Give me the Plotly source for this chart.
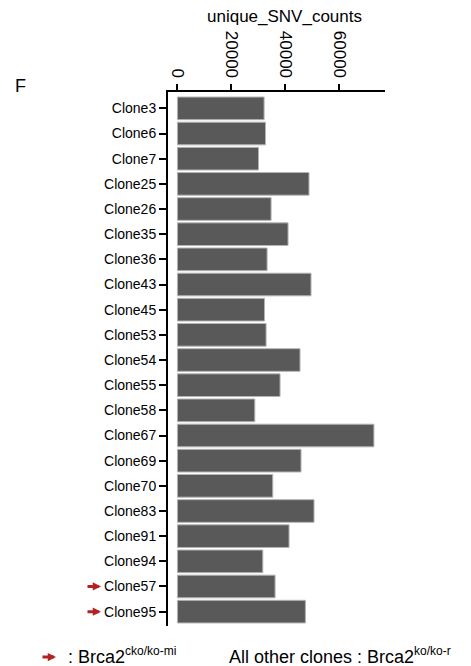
import plotly.graph_objects as go

# Clone names, top to bottom, and their unique SNV counts
clones = ["Clone3", "Clone6", "Clone7", "Clone25", "Clone26", "Clone35", "Clone36",
          "Clone43", "Clone45", "Clone53", "Clone54", "Clone55", "Clone58", "Clone67",
          "Clone69", "Clone70", "Clone83", "Clone91", "Clone94", "Clone57", "Clone95"]
snv_counts = [32150, 32670, 30070, 48810, 34740, 41040, 33260,
              49560, 32300, 32890, 45480, 38070, 28700, 72890,
              45850, 35370, 50670, 41410, 31670, 36220, 47480]
# Clones carrying the Brca2 cko/ko-mi genotype (marked with a red arrow)
marked_clones = ["Clone57", "Clone95"]
x_ticks = [0, 20000, 40000, 60000]

FONT = "Liberation Sans, Arial, sans-serif"
W, H = 471, 666
L, R, T, B = 168, 86, 92, 40
PW, PH = W - L - R, H - T - B


def px(x):
    return (x - L) / PW


def py(y):
    return (H - B - y) / PH


def sup(s):
    return f"<sup><span style='font-size:12px'>{s}</span></sup>"


fig = go.Figure(go.Bar(
    x=snv_counts, y=clones, orientation="h",
    marker=dict(color="#595959", line=dict(color="#b4b4b4", width=1)),
    hoverinfo="x+y",
))

fig.update_layout(
    width=W, height=H,
    margin=dict(l=L, r=R, t=T, b=B),
    paper_bgcolor="white", plot_bgcolor="white",
    showlegend=False, bargap=0.1,
    font=dict(family=FONT, color="black"),
    xaxis=dict(
        side="top", range=[-3500, 77000], tickvals=x_ticks,
        ticktext=[str(v) for v in x_ticks], tickangle=90,
        tickfont=dict(size=17, color="black"),
        showline=True, linecolor="black", linewidth=2,
        ticks="outside", ticklen=6, tickwidth=2, tickcolor="black",
        showgrid=False, zeroline=False,
    ),
    yaxis=dict(
        type="category", categoryorder="array", categoryarray=clones,
        range=[20.57, -0.65],
        tickfont=dict(size=14, color="black"),
        showline=True, linecolor="black", linewidth=2,
        ticks="outside", ticklen=7, tickwidth=2, tickcolor="black",
        showgrid=False, zeroline=False,
    ),
)

arrow_style = dict(showarrow=True, ax=-15, ay=0, arrowhead=2, arrowsize=0.55,
                   arrowwidth=3, arrowcolor="#b22222", text="")

annotations = [
    dict(text="unique_SNV_counts", x=px(284), y=py(16), xref="paper", yref="paper",
         showarrow=False, font=dict(size=17, family=FONT), xanchor="center", yanchor="middle"),
    dict(text="F", x=px(20), y=py(86), xref="paper", yref="paper",
         showarrow=False, font=dict(size=18, family=FONT), xanchor="center", yanchor="middle"),
    dict(text=": Brca2" + sup("cko/ko-mi"), x=px(66), y=py(655), xref="paper", yref="paper",
         showarrow=False, font=dict(size=18, family=FONT), xanchor="left", yanchor="middle"),
    dict(text="All other clones : Brca2" + sup("ko/ko-r"), x=px(227), y=py(655),
         xref="paper", yref="paper", showarrow=False, font=dict(size=18, family=FONT),
         xanchor="left", yanchor="middle"),
    # arrow key in the footnote
    dict(x=px(56), y=py(657), xref="paper", yref="paper", **arrow_style),
]
for name in marked_clones:
    annotations.append(dict(x=px(101), y=name, xref="paper", yref="y", **arrow_style))
fig.update_layout(annotations=annotations)

fig.write_html("out.html")
